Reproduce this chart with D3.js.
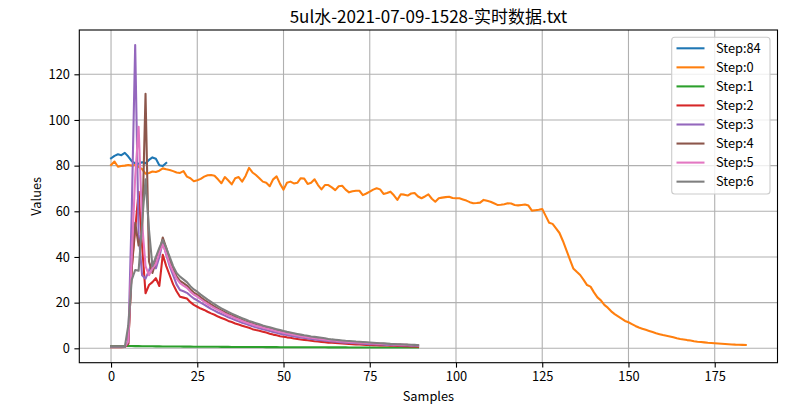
<!DOCTYPE html>
<html>
<head>
<meta charset="utf-8">
<script src="https://cdn.jsdelivr.net/npm/d3@7"></script>
<style>
  html, body { margin: 0; padding: 0; background: #fff; }
  svg { display: block; font-family: "Noto Sans CJK SC", "DejaVu Sans", sans-serif; }
</style>
</head>
<body>
<svg id="chart" width="800" height="409"></svg>
<script>
const titleText = "5ul水-2021-07-09-1528-实时数据.txt";
const xLabel = "Samples";
const yLabel = "Values";
const xTicks = [0, 25, 50, 75, 100, 125, 150, 175];
const yTicks = [0, 20, 40, 60, 80, 100, 120];
const seriesNames = ["Step:84", "Step:0", "Step:1", "Step:2", "Step:3", "Step:4", "Step:5", "Step:6"];
const seriesColors = ["#1f77b4", "#ff7f0e", "#2ca02c", "#d62728", "#9467bd", "#8c564b", "#e377c2", "#7f7f7f"];

const step84 = [83.2,84.3,85.0,84.6,85.6,84.0,82.0,81.0,80.8,81.5,81.0,82.5,83.6,83.0,80.2,79.8,81.2];

const step0 = [
80.3,81.8,79.5,79.8,80.0,80.3,80.0,80.3,79.5,78.5,
76.5,76.8,77.4,77.2,77.8,78.8,78.4,78.1,77.6,77.0,
76.8,77.6,75.2,74.5,73.2,73.6,74.2,75.2,75.8,75.9,
75.6,74.0,72.3,75.0,73.5,71.8,74.5,75.0,73.0,75.5,
79.0,77.0,75.9,74.5,73.0,72.5,71.0,74.0,75.3,72.0,
69.5,72.5,73.0,72.2,72.5,74.5,74.3,72.0,72.5,74.0,
71.5,69.6,71.5,71.5,70.5,69.3,71.0,71.2,69.5,68.3,
68.8,69.0,69.0,67.1,67.8,68.6,69.5,70.1,69.6,67.6,
68.0,68.6,67.0,65.0,67.5,67.3,66.9,67.8,68.0,66.5,
65.7,66.5,67.4,65.5,64.2,65.7,66.0,66.2,66.4,65.8,
65.7,65.7,65.2,64.7,64.0,63.5,63.6,63.8,65.0,64.6,
64.2,63.5,62.8,62.9,63.1,63.5,63.4,62.8,62.6,62.8,
63.0,62.5,60.3,60.5,60.7,61.0,58.0,55.0,54.5,52.5,
50.5,47.0,43.0,39.0,35.0,33.5,32.1,30.0,27.7,27.0,
24.5,22.3,21.0,19.0,17.8,16.2,15.0,14.0,13.0,12.0,
11.4,10.6,9.8,9.1,8.6,8.1,7.6,7.1,6.6,6.2,
5.8,5.5,5.2,4.8,4.4,4.1,3.9,3.6,3.4,3.1,
2.9,2.8,2.6,2.4,2.3,2.2,2.1,2.0,1.9,1.8,
1.7,1.6,1.55,1.5,1.45];

const step1 = [
1.0,1.0,1.0,1.0,1.0,1.0,1.0,0.95,0.95,0.9,
0.9,0.9,0.88,0.86,0.85,0.83,0.82,0.8,0.79,0.78,
0.76,0.75,0.74,0.73,0.72,0.71,0.7,0.69,0.68,0.67,
0.66,0.65,0.64,0.63,0.62,0.61,0.6,0.6,0.59,0.58,
0.57,0.56,0.56,0.55,0.54,0.53,0.53,0.52,0.51,0.5,
0.5,0.49,0.48,0.48,0.47,0.46,0.46,0.45,0.45,0.44,
0.44,0.43,0.43,0.42,0.42,0.41,0.41,0.4,0.4,0.39,
0.39,0.38,0.38,0.37,0.37,0.37,0.36,0.36,0.35,0.35,
0.35,0.34,0.34,0.34,0.33,0.33,0.33,0.32,0.32,0.32];

const step2 = [
0.5,0.5,0.5,0.5,0.6,2.0,35,52,68.6,45,
24.1,27.7,29.0,30.7,27.3,41,36,32,28,25,
22.6,22.2,21.8,20.2,19.0,18.2,17.4,16.8,16.0,15.3,
14.7,13.9,13.3,12.7,12.0,11.5,10.9,10.4,9.9,9.4,
9.0,8.4,8.0,7.7,7.3,6.9,6.4,6.0,5.7,5.3,
5.1,4.8,4.6,4.3,4.1,3.9,3.7,3.5,3.3,3.1,
3.0,2.8,2.7,2.5,2.4,2.3,2.2,2.1,2.0,1.9,
1.8,1.7,1.65,1.6,1.5,1.45,1.4,1.35,1.3,1.25,
1.2,1.15,1.1,1.05,1.0,0.95,0.9,0.85,0.8,0.75];

const step3 = [
0.7,0.7,0.7,0.7,0.7,3,60,132.8,50,32,
30.5,34,38,35,40,46.5,41,36,32,28,
25.5,25,24.3,23,21.8,21,20,19.1,18.2,17.3,
16.5,15.7,15,14.3,13.6,13,12.4,11.8,11.2,10.7,
10.2,9.7,9.2,8.8,8.4,8.0,7.6,7.2,6.8,6.4,
6.1,5.8,5.5,5.2,5.0,4.7,4.5,4.3,4.1,3.9,
3.7,3.5,3.3,3.2,3.0,2.9,2.8,2.6,2.5,2.4,
2.3,2.2,2.1,2.0,1.9,1.85,1.8,1.7,1.65,1.6,
1.5,1.45,1.4,1.35,1.3,1.25,1.2,1.15,1.1,1.05];

const step4 = [
0.7,0.7,0.7,0.7,0.7,2,35,55,45,50,
111.5,38,33,38,42,48.5,44,39,35,31.5,
29.5,28.5,27.5,25.8,24.4,23.5,22.3,21.2,20.2,19.2,
18.3,17.4,16.6,15.8,15.0,14.4,13.7,13.0,12.4,11.8,
11.3,10.8,10.3,9.8,9.4,9.0,8.6,8.2,7.8,7.4,
7.0,6.7,6.4,6.1,5.8,5.5,5.3,5.0,4.8,4.6,
4.4,4.2,4.0,3.8,3.6,3.4,3.3,3.1,3.0,2.9,
2.8,2.7,2.6,2.5,2.4,2.3,2.2,2.1,2.0,1.95,
1.9,1.8,1.75,1.7,1.6,1.55,1.5,1.45,1.4,1.35];

const step5 = [
0.7,0.7,0.7,0.7,0.7,3,40,75,97,55,
36,32,35,37,42,45.5,41.5,37,33.5,30.5,
28.5,27.5,26.5,24.8,23.5,22.6,21.5,20.4,19.4,18.5,
17.6,16.8,16.0,15.2,14.5,13.9,13.2,12.6,12.0,11.4,
10.9,10.4,9.9,9.5,9.1,8.7,8.3,7.9,7.5,7.1,
6.8,6.5,6.2,5.9,5.6,5.3,5.1,4.8,4.6,4.4,
4.2,4.0,3.8,3.6,3.45,3.3,3.15,3.0,2.9,2.8,
2.7,2.6,2.5,2.4,2.3,2.2,2.1,2.0,1.95,1.9,
1.8,1.75,1.7,1.6,1.55,1.5,1.45,1.4,1.35,1.3];

const step6 = [
0.7,0.7,0.7,0.7,0.7,10,30,34.3,34,55,
74,52,36,40,44,47.5,44,40,36,33,
31.4,30.2,29,27.2,25.8,24.8,23.5,22.4,21.3,20.3,
19.3,18.4,17.5,16.7,15.9,15.2,14.5,13.8,13.2,12.6,
12.0,11.5,11.0,10.5,10.0,9.6,9.2,8.8,8.4,8.0,
7.6,7.2,6.9,6.6,6.3,6.0,5.7,5.5,5.2,5.0,
4.8,4.6,4.4,4.1,3.9,3.75,3.6,3.45,3.3,3.2,
3.1,2.95,2.85,2.75,2.65,2.55,2.45,2.35,2.25,2.15,
2.05,1.95,1.9,1.8,1.75,1.7,1.6,1.55,1.5,1.4];

const allSeries = [step84, step0, step1, step2, step3, step4, step5, step6];

const svg = d3.select("#chart");
const L = 79.3, R = 777.5, T = 30, B = 362.7;

const x = d3.scaleLinear().domain([-9.2, 193.2]).range([L, R]);
const y = d3.scaleLinear().domain([-6.3, 139.4]).range([B, T]);

// grid
const grid = svg.append("g");
grid.selectAll("line.gx").data(xTicks).enter().append("line")
  .attr("x1", d => x(d)).attr("x2", d => x(d)).attr("y1", T).attr("y2", B)
  .attr("stroke", "#b0b0b0").attr("stroke-width", 1.1);
grid.selectAll("line.gy").data(yTicks).enter().append("line")
  .attr("x1", L).attr("x2", R).attr("y1", d => y(d)).attr("y2", d => y(d))
  .attr("stroke", "#b0b0b0").attr("stroke-width", 1.1);

// lines
svg.append("clipPath").attr("id", "clip").append("rect")
  .attr("x", L).attr("y", T).attr("width", R - L).attr("height", B - T);
const lineGen = d3.line().x((d, i) => x(i)).y(d => y(d));
const lines = svg.append("g").attr("clip-path", "url(#clip)");
allSeries.forEach((s, k) => {
  lines.append("path").datum(s)
    .attr("d", lineGen)
    .attr("fill", "none")
    .attr("stroke", seriesColors[k])
    .attr("stroke-width", 2.08)
    .attr("stroke-linejoin", "round")
    .attr("stroke-linecap", "square");
});

// axes
const xAxis = d3.axisBottom(x).tickValues(xTicks).tickSize(4.9).tickPadding(4.5).tickFormat(d3.format("d"));
const yAxis = d3.axisLeft(y).tickValues(yTicks).tickSize(4.9).tickPadding(4.5).tickFormat(d3.format("d"));
const gx = svg.append("g").attr("transform", `translate(0,${B})`).call(xAxis);
const gy = svg.append("g").attr("transform", `translate(${L},0)`).call(yAxis);
[gx, gy].forEach(g => {
  g.select(".domain").remove();
  g.selectAll(".tick line").attr("stroke", "#000").attr("stroke-width", 1.1);
  g.selectAll(".tick text").attr("fill", "#000").style("font-size", "12.8px")
    .style("font-family", "'Noto Sans CJK SC', sans-serif");
});

// frame
svg.append("rect").attr("x", L).attr("y", T).attr("width", R - L).attr("height", B - T)
  .attr("fill", "none").attr("stroke", "#000").attr("stroke-width", 1.1);

// title & labels
svg.append("text").attr("x", (L + R) / 2).attr("y", 23).attr("text-anchor", "middle")
  .style("font-size", "17px").attr("fill", "#000").text(titleText);
svg.append("text").attr("x", (L + R) / 2).attr("y", 401).attr("text-anchor", "middle")
  .style("font-size", "12.8px").attr("fill", "#000").text(xLabel);
svg.append("text").attr("transform", `translate(41,${(T + B) / 2}) rotate(-90)`).attr("text-anchor", "middle")
  .style("font-size", "12.8px").attr("fill", "#000").text(yLabel);

// legend
const lg = svg.append("g");
lg.append("rect").attr("x", 671.7).attr("y", 37.3).attr("width", 98.3).attr("height", 156.7)
  .attr("rx", 3).attr("fill", "#fff").attr("fill-opacity", 0.8).attr("stroke", "#cccccc").attr("stroke-width", 1.1);
seriesNames.forEach((n, k) => {
  const yy = 48.3 + k * 19.05;
  lg.append("line").attr("x1", 676.5).attr("x2", 704.5).attr("y1", yy).attr("y2", yy)
    .attr("stroke", seriesColors[k]).attr("stroke-width", 2.08);
  lg.append("text").attr("x", 716).attr("y", yy + 4.6).style("font-size", "12.8px")
    .attr("fill", "#000").text(n);
});
</script>
</body>
</html>
